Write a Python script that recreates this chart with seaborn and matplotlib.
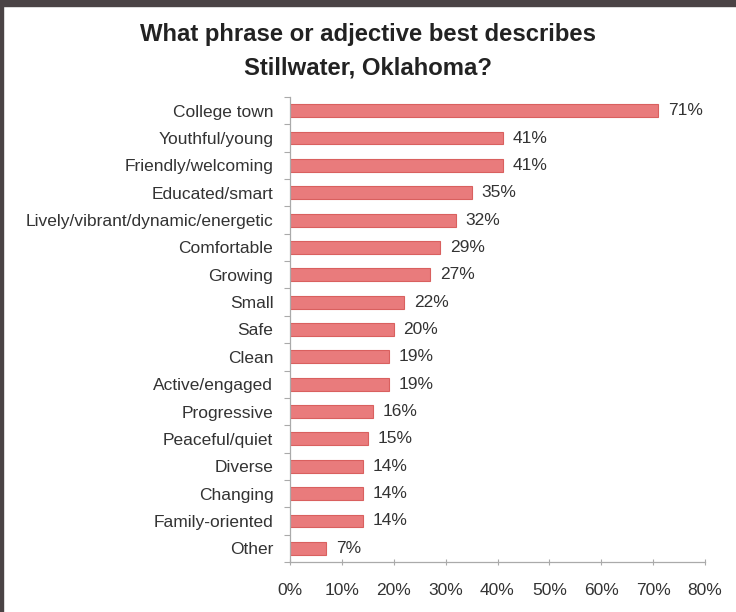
import matplotlib
matplotlib.use("Agg")
import matplotlib.pyplot as plt
from matplotlib.patches import Rectangle
from matplotlib.ticker import FixedLocator, PercentFormatter
import pandas as pd
import seaborn as sns

# Survey answers and the share of respondents choosing each one (%)
categories = [
    "College town", "Youthful/young", "Friendly/welcoming", "Educated/smart",
    "Lively/vibrant/dynamic/energetic", "Comfortable", "Growing", "Small",
    "Safe", "Clean", "Active/engaged", "Progressive", "Peaceful/quiet",
    "Diverse", "Changing", "Family-oriented", "Other",
]
shares = [71, 41, 41, 35, 32, 29, 27, 22, 20, 19, 19, 16, 15, 14, 14, 14, 7]
x_ticks = [0, 10, 20, 30, 40, 50, 60, 70, 80]

sns.set_theme(style="white")
plt.rcParams["font.family"] = ["Liberation Sans", "DejaVu Sans"]

df = pd.DataFrame({"answer": categories, "share": shares})

fig = plt.figure(figsize=(7.36, 6.12), dpi=100)
fig.patch.set_facecolor("white")
ax = fig.add_axes([290 / 736, 1 - 562 / 612, 415 / 736, 465 / 612])

sns.barplot(data=df, x="share", y="answer", orient="h", ax=ax,
            color="#e97b7c", width=0.47, saturation=1,
            edgecolor="#d9605f", linewidth=0.8)

ax.set_xlim(0, 80)
ax.set_ylim(len(categories) - 0.5, -0.5)
ax.xaxis.set_major_locator(FixedLocator(x_ticks))
ax.xaxis.set_major_formatter(PercentFormatter(decimals=0))
ax.set_xlabel("")
ax.set_ylabel("")

# Category boundaries get the small tick marks on the value axis
ax.set_yticks([i for i in range(len(categories))])
ax.set_yticklabels(categories)
ax.set_yticks([i - 0.5 for i in range(len(categories) + 1)], minor=True)
ax.tick_params(axis="y", which="major", length=0, pad=12, labelsize=12.5,
               labelcolor="#333333")
ax.tick_params(axis="y", which="minor", left=True, length=4, width=0.8,
               color="#aaaaaa", direction="out")
ax.tick_params(axis="x", which="major", bottom=True, length=4, width=0.8,
               color="#aaaaaa", direction="inout", pad=13, labelsize=12.5,
               labelcolor="#333333")

for side in ("top", "right"):
    ax.spines[side].set_visible(False)
for side in ("left", "bottom"):
    ax.spines[side].set_color("#aaaaaa")
    ax.spines[side].set_linewidth(0.9)

for container in ax.containers:
    ax.bar_label(container, labels=[f"{v}%" for v in shares], padding=7,
                 fontsize=12.5, color="#333333")

fig.text(0.5, 1 - 35 / 612, "What phrase or adjective best describes",
         ha="center", va="center", fontsize=17.2, fontweight="bold",
         color="#222222")
fig.text(0.5, 1 - 68 / 612, "Stillwater, Oklahoma?",
         ha="center", va="center", fontsize=17.2, fontweight="bold",
         color="#222222")

# Dark slide surround at the top and left edges
fig.patches.append(Rectangle((0, 1 - 6 / 612), 1, 6 / 612,
                             transform=fig.transFigure, color="#4a4345",
                             zorder=10))
fig.patches.append(Rectangle((0, 0), 3 / 736, 1,
                             transform=fig.transFigure, color="#4a4345",
                             zorder=10))

fig.savefig("out.png", dpi=100, facecolor="white")
